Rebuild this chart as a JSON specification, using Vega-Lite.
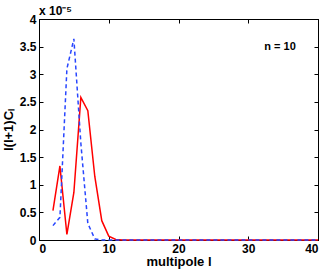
{
  "$schema": "https://vega.github.io/schema/vega-lite/v6.json",
  "width": 279,
  "height": 221,
  "autosize": {"type": "none"},
  "padding": {"left": 39, "top": 19, "right": 9, "bottom": 29},
  "background": "white",
  "config": {
    "view": {"stroke": "black", "strokeWidth": 1},
    "font": "Liberation Sans",
    "axis": {
      "grid": false,
      "domainColor": "black",
      "tickColor": "black",
      "labelColor": "black",
      "titleColor": "black",
      "labelFont": "Liberation Sans",
      "titleFont": "Liberation Sans",
      "labelFontWeight": "bold",
      "titleFontWeight": "bold",
      "labelFontSize": 12,
      "titleFontSize": 13,
      "tickSize": -4
    }
  },
  "datasets": {
    "spectra": [
      {"l": 2, "value": 0.53, "model": "red"},
      {"l": 3, "value": 1.34, "model": "red"},
      {"l": 4, "value": 0.1, "model": "red"},
      {"l": 5, "value": 0.86, "model": "red"},
      {"l": 6, "value": 2.58, "model": "red"},
      {"l": 7, "value": 2.34, "model": "red"},
      {"l": 8, "value": 1.15, "model": "red"},
      {"l": 9, "value": 0.35, "model": "red"},
      {"l": 10, "value": 0.07, "model": "red"},
      {"l": 11, "value": 0.01, "model": "red"},
      {"l": 12, "value": 0, "model": "red"},
      {"l": 13, "value": 0, "model": "red"},
      {"l": 14, "value": 0, "model": "red"},
      {"l": 15, "value": 0, "model": "red"},
      {"l": 16, "value": 0, "model": "red"},
      {"l": 17, "value": 0, "model": "red"},
      {"l": 18, "value": 0, "model": "red"},
      {"l": 19, "value": 0, "model": "red"},
      {"l": 20, "value": 0, "model": "red"},
      {"l": 21, "value": 0, "model": "red"},
      {"l": 22, "value": 0, "model": "red"},
      {"l": 23, "value": 0, "model": "red"},
      {"l": 24, "value": 0, "model": "red"},
      {"l": 25, "value": 0, "model": "red"},
      {"l": 26, "value": 0, "model": "red"},
      {"l": 27, "value": 0, "model": "red"},
      {"l": 28, "value": 0, "model": "red"},
      {"l": 29, "value": 0, "model": "red"},
      {"l": 30, "value": 0, "model": "red"},
      {"l": 31, "value": 0, "model": "red"},
      {"l": 32, "value": 0, "model": "red"},
      {"l": 33, "value": 0, "model": "red"},
      {"l": 34, "value": 0, "model": "red"},
      {"l": 35, "value": 0, "model": "red"},
      {"l": 36, "value": 0, "model": "red"},
      {"l": 37, "value": 0, "model": "red"},
      {"l": 38, "value": 0, "model": "red"},
      {"l": 39, "value": 0, "model": "red"},
      {"l": 40, "value": 0, "model": "red"},
      {"l": 2, "value": 0.26, "model": "blue"},
      {"l": 3, "value": 0.41, "model": "blue"},
      {"l": 4, "value": 3.1, "model": "blue"},
      {"l": 5, "value": 3.64, "model": "blue"},
      {"l": 6, "value": 1.75, "model": "blue"},
      {"l": 7, "value": 0.3, "model": "blue"},
      {"l": 8, "value": 0.02, "model": "blue"},
      {"l": 9, "value": 0, "model": "blue"},
      {"l": 10, "value": 0, "model": "blue"},
      {"l": 11, "value": 0, "model": "blue"},
      {"l": 12, "value": 0, "model": "blue"},
      {"l": 13, "value": 0, "model": "blue"},
      {"l": 14, "value": 0, "model": "blue"},
      {"l": 15, "value": 0, "model": "blue"},
      {"l": 16, "value": 0, "model": "blue"},
      {"l": 17, "value": 0, "model": "blue"},
      {"l": 18, "value": 0, "model": "blue"},
      {"l": 19, "value": 0, "model": "blue"},
      {"l": 20, "value": 0, "model": "blue"},
      {"l": 21, "value": 0, "model": "blue"},
      {"l": 22, "value": 0, "model": "blue"},
      {"l": 23, "value": 0, "model": "blue"},
      {"l": 24, "value": 0, "model": "blue"},
      {"l": 25, "value": 0, "model": "blue"},
      {"l": 26, "value": 0, "model": "blue"},
      {"l": 27, "value": 0, "model": "blue"},
      {"l": 28, "value": 0, "model": "blue"},
      {"l": 29, "value": 0, "model": "blue"},
      {"l": 30, "value": 0, "model": "blue"},
      {"l": 31, "value": 0, "model": "blue"},
      {"l": 32, "value": 0, "model": "blue"},
      {"l": 33, "value": 0, "model": "blue"},
      {"l": 34, "value": 0, "model": "blue"},
      {"l": 35, "value": 0, "model": "blue"},
      {"l": 36, "value": 0, "model": "blue"},
      {"l": 37, "value": 0, "model": "blue"},
      {"l": 38, "value": 0, "model": "blue"},
      {"l": 39, "value": 0, "model": "blue"},
      {"l": 40, "value": 0, "model": "blue"}
    ],
    "notes": [
      {"l": 32.3, "value": 3.5, "label": "n = 10", "kind": "legend"},
      {"l": 0, "value": 4, "label": "x 10⁻⁵", "kind": "exponent"}
    ]
  },
  "resolve": {"axis": {"x": "independent", "y": "independent"}},
  "layer": [
    {
      "data": {"name": "spectra"},
      "transform": [{"filter": "datum.model === 'red'"}],
      "mark": {"type": "line", "color": "#ff0000", "strokeWidth": 1.5},
      "encoding": {
        "x": {"field": "l", "type": "quantitative", "scale": {"domain": [0, 40], "nice": false},
          "axis": {"values": [0, 10, 20, 30, 40], "title": "multipole l", "labelPadding": 7, "titlePadding": 1}},
        "y": {"field": "value", "type": "quantitative", "scale": {"domain": [0, 4], "nice": false},
          "axis": {"values": [0, 0.5, 1, 1.5, 2, 2.5, 3, 3.5, 4], "format": "~g", "title": "l(l+1)Cₗ", "labelPadding": 7, "titlePadding": 4}}
      }
    },
    {
      "data": {"name": "spectra"},
      "transform": [{"filter": "datum.model === 'blue'"}],
      "mark": {"type": "line", "color": "#2846ff", "strokeWidth": 1.5, "strokeDash": [4, 3]},
      "encoding": {
        "x": {"field": "l", "type": "quantitative",
          "axis": {"orient": "top", "values": [0, 10, 20, 30, 40], "labels": false, "title": null}},
        "y": {"field": "value", "type": "quantitative",
          "axis": {"orient": "right", "values": [0, 0.5, 1, 1.5, 2, 2.5, 3, 3.5, 4], "labels": false, "title": null}}
      }
    },
    {
      "data": {"name": "notes"},
      "transform": [{"filter": "datum.kind === 'legend'"}],
      "mark": {"type": "text", "align": "left", "baseline": "middle", "fontWeight": "bold", "fontSize": 11, "font": "Liberation Sans", "color": "black"},
      "encoding": {
        "x": {"field": "l", "type": "quantitative", "axis": null},
        "y": {"field": "value", "type": "quantitative", "axis": null},
        "text": {"field": "label"}
      }
    },
    {
      "data": {"name": "notes"},
      "transform": [{"filter": "datum.kind === 'exponent'"}],
      "mark": {"type": "text", "align": "left", "baseline": "bottom", "dy": -1, "fontWeight": "bold", "fontSize": 12, "font": "Liberation Sans", "color": "black"},
      "encoding": {
        "x": {"field": "l", "type": "quantitative", "axis": null},
        "y": {"field": "value", "type": "quantitative", "axis": null},
        "text": {"field": "label"}
      }
    }
  ]
}
